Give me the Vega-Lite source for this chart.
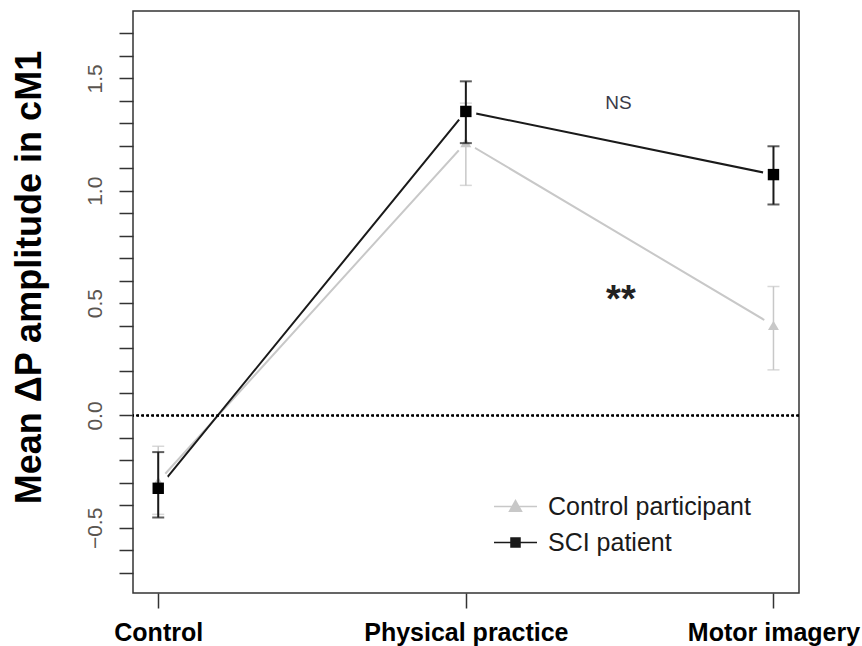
{
  "$schema": "https://vega.github.io/schema/vega-lite/v6.json",
  "width": 666,
  "height": 582,
  "autosize": {"type": "none"},
  "padding": {"left": 133, "top": 11, "right": 63, "bottom": 53},
  "background": "white",
  "config": {"view": {"stroke": "#333333", "strokeWidth": 1.5}, "font": "Liberation Sans", "axis": {"labelOverlap": false}},
  "datasets": {
    "stats": [
      {"group": "Control participant", "condition": "Control", "pos": 0, "mean": -0.294, "lo": -0.44, "hi": -0.137},
      {"group": "Control participant", "condition": "Physical practice", "pos": 1, "mean": 1.215, "lo": 1.024, "hi": 1.39},
      {"group": "Control participant", "condition": "Motor imagery", "pos": 2, "mean": 0.401, "lo": 0.203, "hi": 0.574},
      {"group": "SCI patient", "condition": "Control", "pos": 0, "mean": -0.324, "lo": -0.454, "hi": -0.163},
      {"group": "SCI patient", "condition": "Physical practice", "pos": 1, "mean": 1.353, "lo": 1.212, "hi": 1.487},
      {"group": "SCI patient", "condition": "Motor imagery", "pos": 2, "mean": 1.072, "lo": 0.939, "hi": 1.198}
    ],
    "notes": [
      {"label": "NS", "kind": "ns", "pos": 1.496, "value": 1.389},
      {"label": "**", "kind": "sig", "pos": 1.504, "value": 0.46}
    ]
  },
  "data": {"name": "stats"},
  "layer": [
    {
      "transform": [{"filter": "datum.group == 'Control participant'"}],
      "mark": {"type": "line", "strokeWidth": 2, "color": "#c8c8c8"},
      "encoding": {
        "x": {
          "field": "pos", "type": "quantitative",
          "scale": {"domain": [-0.082, 2.083], "nice": false, "zero": false},
          "axis": {
            "values": [0, 1, 2],
            "labelExpr": "datum.value < 0.5 ? 'Control' : (datum.value < 1.5 ? 'Physical practice' : 'Motor imagery')",
            "tickSize": 15, "tickColor": "#333333", "tickWidth": 1.5,
            "domain": false, "grid": false,
            "labelFontSize": 25, "labelFontWeight": "bold", "labelColor": "black", "labelFont": "Liberation Sans",
            "labelPadding": 12, "labelOverlap": false, "labelBound": false, "labelFlush": false, "labelLimit": 0,
            "title": null
          }
        },
        "y": {
          "field": "mean", "type": "quantitative",
          "scale": {"domain": [-0.79, 1.8], "nice": false, "zero": false},
          "axis": {
            "values": [-0.7, -0.6, -0.5, -0.4, -0.3, -0.2, -0.1, 0, 0.1, 0.2, 0.3, 0.4, 0.5, 0.6, 0.7, 0.8, 0.9, 1.0, 1.1, 1.2, 1.3, 1.4, 1.5, 1.6, 1.7],
            "tickCount": 40,
            "labelExpr": "abs(datum.value*2 - round(datum.value*2)) < 0.001 ? format(datum.value, '.1f') : ''",
            "tickSize": 14, "tickColor": "#333333", "tickWidth": 1.5,
            "domain": false, "grid": false,
            "labelAngle": 270, "labelAlign": "center", "labelBaseline": "bottom", "labelPadding": 14,
            "labelFontSize": 21, "labelColor": "#5a5550", "labelFont": "Liberation Sans",
            "labelOverlap": false, "labelBound": false,
            "title": "Mean ΔP amplitude in cM1",
            "titleFontSize": 36, "titleFontWeight": "bold", "titleFont": "Liberation Sans", "titleColor": "black",
            "titleAngle": 270, "titleAlign": "center", "titleBaseline": "alphabetic", "titleX": -93, "titleY": 266,
            "encode": {"ticks": {"x2": {"signal": "abs(datum.value*2 - round(datum.value*2)) < 0.001 ? -14 : -7"}}}
          }
        }
      }
    },
    {
      "transform": [{"filter": "datum.group == 'SCI patient'"}],
      "mark": {"type": "line", "strokeWidth": 2, "color": "#1a1a1a"},
      "encoding": {
        "x": {"field": "pos", "type": "quantitative"},
        "y": {"field": "mean", "type": "quantitative"}
      }
    },
    {
      "mark": {"type": "rule", "strokeDash": [2.5, 2.5], "strokeWidth": 1.5, "color": "black"},
      "encoding": {"y": {"datum": 0, "type": "quantitative"}}
    },
    {
      "mark": {"type": "point", "filled": true, "color": "white", "opacity": 1, "size": 452, "shape": "circle"},
      "encoding": {
        "x": {"field": "pos", "type": "quantitative"},
        "y": {"field": "mean", "type": "quantitative"}
      }
    },
    {
      "transform": [{"filter": "datum.group == 'Control participant'"}],
      "layer": [
        {
          "mark": {"type": "rule", "strokeWidth": 1.5, "color": "#c8c8c8"},
          "encoding": {
            "x": {"field": "pos", "type": "quantitative"},
            "y": {"field": "lo", "type": "quantitative"},
            "y2": {"field": "hi"}
          }
        },
        {
          "mark": {"type": "tick", "size": 12, "thickness": 1.5, "color": "#c8c8c8", "orient": "horizontal"},
          "encoding": {
            "x": {"field": "pos", "type": "quantitative"},
            "y": {"field": "lo", "type": "quantitative"}
          }
        },
        {
          "mark": {"type": "tick", "size": 12, "thickness": 1.5, "color": "#c8c8c8", "orient": "horizontal"},
          "encoding": {
            "x": {"field": "pos", "type": "quantitative"},
            "y": {"field": "hi", "type": "quantitative"}
          }
        },
        {
          "mark": {"type": "point", "filled": true, "shape": "triangle-up", "size": 120, "color": "#c8c8c8", "opacity": 1},
          "encoding": {
            "x": {"field": "pos", "type": "quantitative"},
            "y": {"field": "mean", "type": "quantitative"}
          }
        }
      ]
    },
    {
      "transform": [{"filter": "datum.group == 'SCI patient'"}],
      "layer": [
        {
          "mark": {"type": "rule", "strokeWidth": 2, "color": "#1a1a1a"},
          "encoding": {
            "x": {"field": "pos", "type": "quantitative"},
            "y": {"field": "lo", "type": "quantitative"},
            "y2": {"field": "hi"}
          }
        },
        {
          "mark": {"type": "tick", "size": 12, "thickness": 2, "color": "#1a1a1a", "orient": "horizontal"},
          "encoding": {
            "x": {"field": "pos", "type": "quantitative"},
            "y": {"field": "lo", "type": "quantitative"}
          }
        },
        {
          "mark": {"type": "tick", "size": 12, "thickness": 2, "color": "#1a1a1a", "orient": "horizontal"},
          "encoding": {
            "x": {"field": "pos", "type": "quantitative"},
            "y": {"field": "hi", "type": "quantitative"}
          }
        },
        {
          "mark": {"type": "point", "filled": true, "shape": "square", "size": 130, "color": "black", "opacity": 1},
          "encoding": {
            "x": {"field": "pos", "type": "quantitative"},
            "y": {"field": "mean", "type": "quantitative"}
          }
        }
      ]
    },
    {
      "mark": {"type": "point", "filled": true, "opacity": 0},
      "encoding": {
        "x": {"field": "pos", "type": "quantitative"},
        "y": {"field": "mean", "type": "quantitative"},
        "color": {
          "field": "group", "type": "nominal",
          "scale": {"domain": ["Control participant", "SCI patient"], "range": ["#c8c8c8", "#1a1a1a"]}
        },
        "stroke": {
          "field": "group", "type": "nominal",
          "scale": {"domain": ["Control participant", "SCI patient"], "range": ["#c8c8c8", "#1a1a1a"]}
        },
        "shape": {
          "field": "group", "type": "nominal",
          "scale": {"domain": ["Control participant", "SCI patient"], "range": ["M-2,0H2M-0.56,0.45L0,-0.55L0.56,0.45Z", "M-2,0H2M-0.42,-0.42H0.42V0.42H-0.42Z"]},
          "legend": {
            "orient": "none", "legendX": 370, "legendY": 483, "title": null, "padding": 0,
            "symbolSize": 462, "symbolStrokeWidth": 1.5, "symbolOpacity": 1,
            "labelFontSize": 25, "labelFont": "Liberation Sans", "labelColor": "#1a1a1a", "labelLimit": 0,
            "labelOffset": 20, "rowPadding": 10
          }
        }
      }
    },
    {
      "data": {"name": "notes"},
      "transform": [{"filter": "datum.kind == 'ns'"}],
      "mark": {"type": "text", "fontSize": 19, "font": "Liberation Sans", "color": "#3a3a48", "align": "center", "baseline": "middle"},
      "encoding": {
        "x": {"field": "pos", "type": "quantitative"},
        "y": {"field": "value", "type": "quantitative"},
        "text": {"field": "label"}
      }
    },
    {
      "data": {"name": "notes"},
      "transform": [{"filter": "datum.kind == 'sig'"}],
      "mark": {"type": "text", "fontSize": 38, "fontWeight": "bold", "font": "Liberation Sans", "color": "#222222", "align": "center", "baseline": "alphabetic"},
      "encoding": {
        "x": {"field": "pos", "type": "quantitative"},
        "y": {"field": "value", "type": "quantitative"},
        "text": {"field": "label"}
      }
    }
  ]
}
